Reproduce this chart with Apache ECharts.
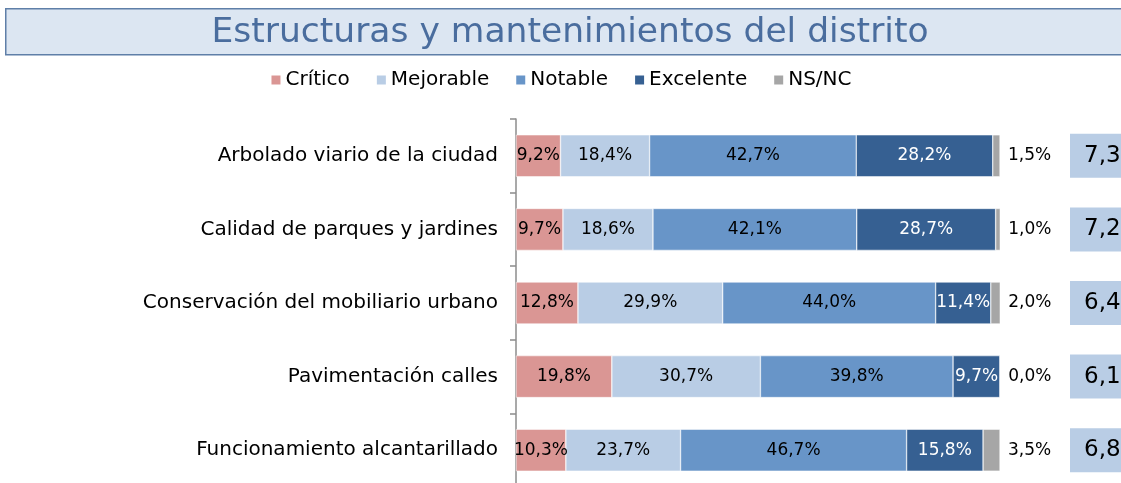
<!DOCTYPE html>
<html>
<head>
<meta charset="utf-8">
<script src="https://cdn.jsdelivr.net/npm/echarts@6/dist/echarts.min.js"></script>
<style>html,body{margin:0;padding:0;background:#fff}#c{width:1121px;height:483px}</style>
</head>
<body>
<div id="c"></div>
<script>
const categories = ["Arbolado viario de la ciudad", "Calidad de parques y jardines", "Conservación del mobiliario urbano", "Pavimentación calles", "Funcionamiento alcantarillado"];
const critico = [9.2, 9.7, 12.8, 19.8, 10.3];
const mejorable = [18.4, 18.6, 29.9, 30.7, 23.7];
const notable = [42.7, 42.1, 44.0, 39.8, 46.7];
const excelente = [28.2, 28.7, 11.4, 9.7, 15.8];
const nsnc = [1.5, 1.0, 2.0, 0.0, 3.5];
const scores = ["7,3", "7,2", "6,4", "6,1", "6,8"];

const FONT = "DejaVu Sans";
const fmt = v => v.toFixed(1).replace('.', ',') + '%';
const chart = echarts.init(document.getElementById('c'));

function seg(name, data, color, labelColor, pos) {
  return {
    name, type: 'bar', stack: 'total', data,
    barWidth: '57%',
    itemStyle: { color, borderColor: '#fff', borderWidth: 0.5 },
    label: {
      show: true, position: pos || 'inside', color: labelColor,
      fontFamily: FONT, fontSize: 17, distance: 8,
      formatter: p => fmt(p.value)
    },
    emphasis: { disabled: true }
  };
}

chart.setOption({
  animation: false,
  graphic: [{
    type: 'rect', left: 5, top: 8, shape: { width: 1130, height: 46 },
    style: { fill: '#dce6f2', stroke: '#5f7fa8', lineWidth: 1.5 }, z: -1
  }],
  title: {
    text: 'Estructuras y mantenimientos del distrito',
    left: 565, textAlign: 'center', top: 11,
    textStyle: { fontFamily: FONT, fontWeight: 'normal', fontSize: 34.5, color: '#4a6d9e' }
  },
  legend: {
    top: 65, left: 'center', itemWidth: 11, itemHeight: 11, itemGap: 25,
    icon: 'rect',
    textStyle: { fontFamily: FONT, fontSize: 20, color: '#000', padding: [0, 0, 0, -1] },
    data: ['Crítico', 'Mejorable', 'Notable', 'Excelente', 'NS/NC']
  },
  grid: { left: 516, right: 121, top: 119, bottom: -4, outerBoundsMode: 'none', containLabel: false },
  xAxis: { type: 'value', min: 0, max: 100, show: false },
  yAxis: [{
    type: 'category', data: categories, inverse: true,
    axisLine: { show: true, lineStyle: { color: '#8c8c8c', width: 1.5 } },
    axisTick: { show: true, length: 6, lineStyle: { color: '#8c8c8c', width: 1.5 } },
    axisLabel: { fontFamily: FONT, fontSize: 20, color: '#000', margin: 18 }
  }, {
    type: 'category', data: scores, inverse: true, position: 'right',
    axisLine: { show: false }, axisTick: { show: false },
    axisLabel: {
      margin: 70, align: 'left',
      fontFamily: FONT, fontSize: 23, color: '#000',
      backgroundColor: '#b9cde5', width: 50,
      padding: [11, 0, 10, 14]
    }
  }],
  series: [
    seg('Crítico', critico, '#da9694', '#000'),
    seg('Mejorable', mejorable, '#b9cde5', '#000'),
    seg('Notable', notable, '#6895c8', '#000'),
    seg('Excelente', excelente, '#366092', '#fff'),
    seg('NS/NC', nsnc, '#a6a6a6', '#000', 'right')
  ]
});
</script>
</body>
</html>
